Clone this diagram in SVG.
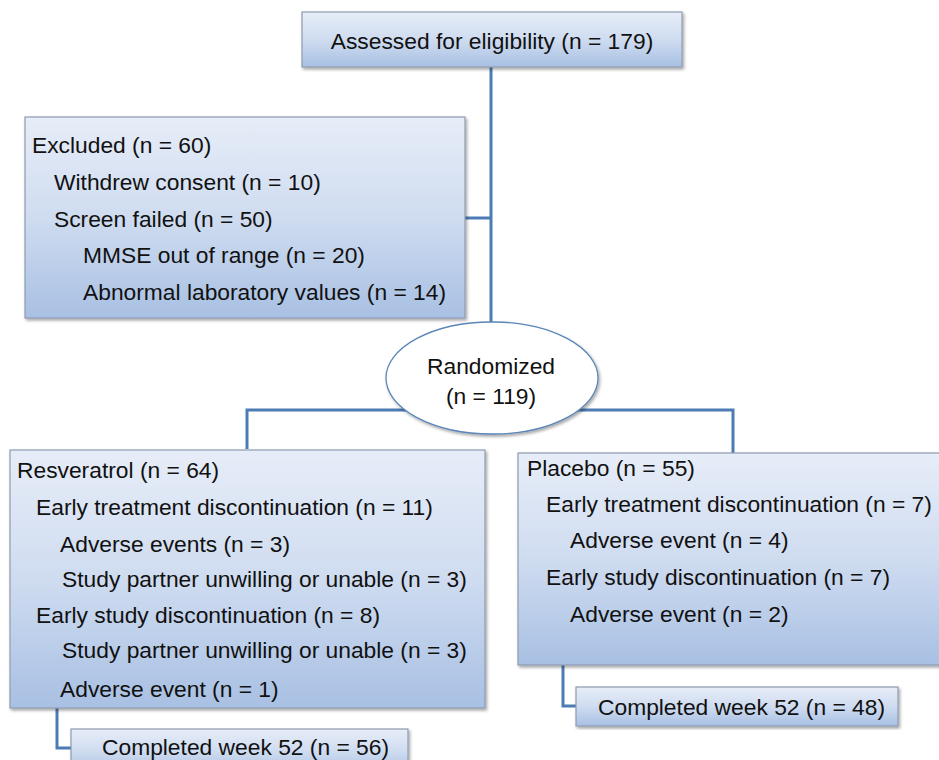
<svg xmlns="http://www.w3.org/2000/svg" width="939" height="760" viewBox="0 0 939 760">
<defs>
<linearGradient id="g" x1="0" y1="0" x2="0" y2="1">
<stop offset="0" stop-color="#e7edf8"/>
<stop offset="0.5" stop-color="#cfdcf0"/>
<stop offset="1" stop-color="#a8c0e3"/>
</linearGradient>
<filter id="sh" x="-5%" y="-5%" width="110%" height="115%">
<feDropShadow dx="1.5" dy="2" stdDeviation="1.5" flood-color="#000" flood-opacity="0.35"/>
</filter>
<style>
.box{fill:url(#g);stroke:#8e9bb0;stroke-width:1.2;filter:url(#sh)}
.ell{fill:#fff;stroke:#5b86b8;stroke-width:1.3;filter:url(#sh)}
.con{fill:none;stroke:#4d7cb4;stroke-width:3}
text{font-family:"Liberation Sans",Arial,sans-serif;font-size:22.8px;fill:#111}
.c{text-anchor:middle}
</style>
</defs>
<rect width="939" height="760" fill="#fff"/>
<g id="connectors">
<path class="con" d="M491 67 V340"/>
<path class="con" d="M465 218 H491"/>
<path class="con" d="M247 449 V410 H733 V453"/>
<path class="con" d="M57 708 V748 H72"/>
<path class="con" d="M563 665 V706 H577"/>
</g>
<g id="assessed">
<rect class="box" x="302" y="12" width="380" height="55"/>
<text class="c" x="492" y="49">Assessed for eligibility (n = 179)</text>
</g>
<g id="excluded">
<rect class="box" x="25" y="117" width="440" height="201"/>
<text x="32" y="153">Excluded (n = 60)</text>
<text x="54" y="190">Withdrew consent (n = 10)</text>
<text x="54" y="227">Screen failed (n = 50)</text>
<text x="83" y="263">MMSE out of range (n = 20)</text>
<text x="83" y="300">Abnormal laboratory values (n = 14)</text>
</g>
<g id="randomized">
<ellipse class="ell" cx="492" cy="378" rx="106" ry="56"/>
<text class="c" x="491" y="374">Randomized</text>
<text class="c" x="491" y="404">(n = 119)</text>
</g>
<g id="resveratrol">
<rect class="box" x="10" y="450" width="475" height="258"/>
<text x="17" y="478">Resveratrol (n = 64)</text>
<text x="36" y="515">Early treatment discontinuation (n = 11)</text>
<text x="60" y="552">Adverse events (n = 3)</text>
<text x="62" y="587">Study partner unwilling or unable (n = 3)</text>
<text x="36" y="623">Early study discontinuation (n = 8)</text>
<text x="62" y="658">Study partner unwilling or unable (n = 3)</text>
<text x="60" y="697">Adverse event (n = 1)</text>
</g>
<g id="placebo">
<rect class="box" x="518" y="453" width="432" height="212"/>
<text x="527" y="476">Placebo (n = 55)</text>
<text x="546" y="512">Early treatment discontinuation (n = 7)</text>
<text x="570" y="548">Adverse event (n = 4)</text>
<text x="546" y="585">Early study discontinuation (n = 7)</text>
<text x="570" y="622">Adverse event (n = 2)</text>
</g>
<g id="completed-resveratrol">
<rect class="box" x="71" y="729" width="337" height="45"/>
<text x="102" y="755">Completed week 52 (n = 56)</text>
</g>
<g id="completed-placebo">
<rect class="box" x="576" y="687" width="322" height="39"/>
<text x="598" y="715">Completed week 52 (n = 48)</text>
</g>
</svg>
